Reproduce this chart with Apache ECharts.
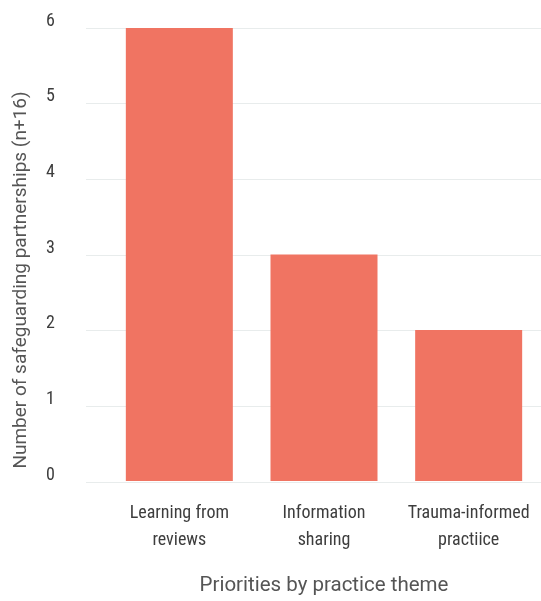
<!DOCTYPE html>
<html>
<head>
  <meta charset="utf-8">
  <title>Priorities</title>
  <script src="https://cdn.jsdelivr.net/npm/echarts@6/dist/echarts.min.js"></script>
  <style>
    html, body { margin: 0; padding: 0; background: #fff; }
  </style>
</head>
<body>
  <div id="container" style="height: 601px; width: 541px"></div>
  <script>
    // values
    var themes = ['Learning from\nreviews', 'Information\nsharing', 'Trauma-informed\npractiice'];
    var counts = [6, 3, 2];
    var yTicks = { min: 0, max: 6, step: 1 };

    var narrow = "'Roboto Condensed', 'Liberation Sans Narrow', Roboto, sans-serif";
    var plain = "Roboto, 'Noto Sans', sans-serif";

    var myChart = echarts.init(document.getElementById('container'));

    // grid 0 carries the y labels and gridlines (they start further left),
    // grid 1 carries the bars and the category labels
    var option = {
      animation: false,
      grid: [
        { left: 86, right: 0, top: 28, bottom: 119 },
        { left: 107, right: 0, top: 28, bottom: 119 }
      ],
      xAxis: [
        { type: 'category', gridIndex: 0, data: themes, show: false },
        {
          type: 'category', gridIndex: 1, data: themes,
          axisLine: { show: false },
          axisTick: { show: false },
          axisLabel: {
            margin: 19,
            fontFamily: narrow,
            fontSize: 18,
            lineHeight: 27,
            color: '#3d3d3d',
            interval: 0
          },
          name: 'Priorities by practice theme',
          nameLocation: 'middle',
          nameGap: 94,
          nameTextStyle: { fontFamily: plain, fontSize: 20.5, color: '#555' }
        }
      ],
      yAxis: [
        {
          type: 'value', gridIndex: 0,
          min: yTicks.min, max: yTicks.max, interval: yTicks.step,
          axisLine: { show: false },
          axisTick: { show: false },
          axisLabel: {
            margin: 31,
            fontFamily: narrow,
            fontSize: 18,
            lineHeight: 14,
            color: '#3d3d3d',
            verticalAlign: 'bottom'
          },
          splitLine: { lineStyle: { color: '#e8ecec', width: 1 } },
          name: 'Number of safeguarding partnerships (n+16)',
          nameLocation: 'middle',
          nameGap: 55,
          nameMoveOverlap: false,
          nameTextStyle: {
            fontFamily: plain, fontSize: 19, color: '#555',
            padding: [0, 50, 0, 0]
          }
        },
        {
          type: 'value', gridIndex: 1,
          min: yTicks.min, max: yTicks.max, interval: yTicks.step,
          show: false
        }
      ],
      series: [
        {
          type: 'bar',
          xAxisIndex: 1,
          yAxisIndex: 1,
          data: counts,
          barWidth: 107,
          itemStyle: { color: '#f07462' }
        }
      ]
    };
    myChart.setOption(option);
  </script>
</body>
</html>
